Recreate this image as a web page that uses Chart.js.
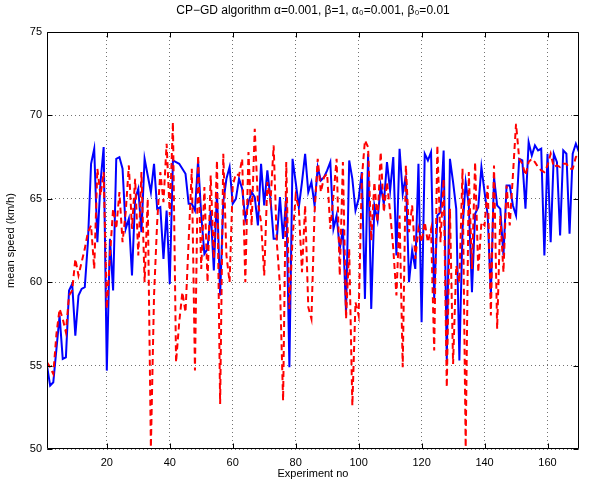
<!DOCTYPE html>
<html><head><meta charset="utf-8">
<script src="https://cdn.jsdelivr.net/npm/chart.js@4.4.0/dist/chart.umd.min.js"></script>
<style>html,body{margin:0;padding:0;background:#fff;}canvas{display:block;}</style>
</head><body>
<canvas id="c" width="589" height="483"></canvas>
<script>
const titleText = "CP\u2212GD algorithm \u03b1=0.001, \u03b2=1, \u03b1\u2080=0.001, \u03b2\u2080=0.01";
const xLabel = "Experiment no";
const yLabel = "mean speed (km/h)";
const xTicks = [20, 40, 60, 80, 100, 120, 140, 160];
const yTicks = [50, 55, 60, 65, 70, 75];
// blue solid series, experiments 1..170
const seriesBlue = [
55.0,53.8,54.0,56.0,58.0,55.4,55.5,59.5,59.9,56.8,
59.2,59.6,59.7,62.4,67.1,68.0,62.4,66.0,68.1,54.7,
62.6,59.5,67.4,67.5,66.8,63.2,63.8,60.4,65.0,65.6,
63.0,67.4,66.4,65.4,67.1,64.4,64.5,61.4,64.3,59.9,
67.3,67.2,67.1,66.8,66.5,64.7,64.7,64.3,67.3,64.0,
61.7,62.0,64.3,60.7,65.4,59.2,64.8,66.2,66.9,64.7,
65.0,66.2,65.6,63.8,64.8,65.4,65.1,63.4,67.1,64.6,
66.7,65.0,62.6,62.6,65.1,62.6,65.1,54.9,67.4,66.0,
64.5,66.0,67.7,65.4,66.0,64.6,66.9,66.1,66.3,66.7,
67.2,63.2,64.0,62.0,63.2,58.2,67.3,66.2,64.3,65.0,
66.6,59.0,67.7,58.4,64.6,63.7,65.8,64.7,67.2,65.5,
67.5,61.6,68.0,65.3,66.4,60.0,61.9,60.8,67.1,57.6,
67.7,67.3,67.8,59.0,64.0,64.2,67.9,55.3,67.4,66.0,
64.4,55.3,63.2,66.0,64.6,59.4,64.1,64.5,66.9,65.4,
64.0,59.2,66.3,64.6,64.4,61.6,65.8,65.8,64.6,64.0,
67.4,67.3,64.4,68.4,67.6,68.2,67.9,68.0,61.6,67.7,
62.4,67.7,67.2,62.8,67.9,67.7,62.9,67.7,68.3,67.8
];
// red dashed series, experiments 1..170
const seriesRed = [
55.2,54.9,54.5,56.9,58.4,57.8,57.0,59.2,59.5,61.4,
60.4,61.2,62.0,63.0,63.4,60.8,66.8,65.2,66.6,58.4,
61.6,64.4,63.2,65.4,62.4,64.2,67.0,63.2,66.2,61.6,
66.6,60.0,65.0,50.1,59.2,63.6,66.6,64.8,68.3,64.0,
69.6,55.2,57.6,59.4,58.2,62.5,66.8,54.7,67.6,60.8,
65.7,60.0,66.4,61.4,67.3,52.7,67.7,61.6,60.0,65.8,
66.5,66.4,67.4,60.0,67.8,63.4,69.2,64.8,63.6,60.4,
66.0,64.8,68.2,62.4,59.8,52.9,67.2,58.4,62.6,65.2,
64.4,60.6,64.6,58.5,57.8,64.2,67.4,65.4,66.3,66.5,
63.2,65.2,67.4,60.4,67.2,57.8,62.0,52.6,58.8,58.0,
66.2,68.5,68.1,62.5,66.0,63.6,67.8,64.2,66.0,64.2,
62.0,59.2,64.0,54.9,67.0,63.0,64.6,61.4,63.2,62.4,
63.6,62.4,63.2,55.9,68.2,62.4,66.2,53.7,64.4,55.1,
61.0,60.0,66.8,50.1,66.6,60.8,67.2,60.6,63.6,63.4,
65.8,58.0,67.0,57.2,64.0,60.6,65.8,63.4,66.4,69.5,
67.4,67.1,66.4,67.2,67.4,67.2,66.9,66.7,66.6,67.0,
67.7,66.9,67.0,66.9,67.1,67.1,66.8,66.8,67.5,67.7
];
const experiments = seriesBlue.map((_, i) => i + 1);

const FONT = "'Liberation Sans', Arial, Helvetica, sans-serif";

const boxPlugin = {
  id: 'matlabBox',
  afterDatasetsDraw(chart) {
    const { ctx, chartArea: a, scales: { x, y } } = chart;
    const L = Math.round(a.left) + 0.5, R = Math.round(a.right) - 0.5;
    const T = Math.round(a.top) + 0.5, B = Math.round(a.bottom) - 0.5;
    ctx.save();
    ctx.strokeStyle = '#000';
    ctx.lineWidth = 1;
    ctx.beginPath();
    ctx.rect(L, T, R - L, B - T);
    const len = 5;
    xTicks.forEach(v => {
      const px = Math.round(x.getPixelForValue(v)) + 0.5;
      ctx.moveTo(px, B); ctx.lineTo(px, B - len);
      ctx.moveTo(px, T); ctx.lineTo(px, T + len);
    });
    yTicks.forEach(v => {
      const py = Math.round(y.getPixelForValue(v)) + 0.5;
      ctx.moveTo(L, py); ctx.lineTo(L + len, py);
      ctx.moveTo(R, py); ctx.lineTo(R - len, py);
    });
    ctx.stroke();
    ctx.restore();
  }
};

new Chart(document.getElementById('c'), {
  type: 'line',
  data: {
    datasets: [
      {
        label: 'red',
        data: experiments.map((e, i) => ({ x: e, y: seriesRed[i] })),
        borderColor: '#ff0000',
        borderWidth: 2,
        borderDash: [6, 4],
        pointRadius: 0,
        tension: 0,
        fill: false,
        order: 0
      },
      {
        label: 'blue',
        data: experiments.map((e, i) => ({ x: e, y: seriesBlue[i] })),
        borderColor: '#0000ff',
        borderWidth: 2,
        pointRadius: 0,
        tension: 0,
        fill: false,
        order: 1
      }
    ]
  },
  options: {
    responsive: false,
    animation: false,
    devicePixelRatio: 1,
    layout: { padding: { left: 0, right: 10, top: 0, bottom: 0 } },
    plugins: {
      legend: { display: false },
      tooltip: { enabled: false },
      title: {
        display: true,
        fullSize: false,
        text: titleText,
        color: '#000',
        font: { family: FONT, size: 12, weight: 'normal' },
        padding: { top: 3, bottom: 14.6 }
      }
    },
    scales: {
      x: {
        type: 'linear',
        min: 1,
        max: 170,
        afterBuildTicks: s => { s.ticks = xTicks.map(v => ({ value: v })); },
        afterFit: s => { s.height = 34; },
        grid: { display: true, color: 'rgba(0,0,0,0.55)', drawTicks: false, lineWidth: 1 },
        border: { display: false, dash: [1, 3] },
        ticks: { color: '#000', font: { family: FONT, size: 11 }, padding: 7, maxRotation: 0 },
        title: { display: true, text: xLabel, color: '#000', font: { family: FONT, size: 11 }, padding: { top: 0, bottom: 2 } }
      },
      y: {
        type: 'linear',
        min: 50,
        max: 75,
        afterBuildTicks: s => { s.ticks = yTicks.map(v => ({ value: v })); },
        afterFit: s => { s.width = 47; },
        grid: { display: true, color: 'rgba(0,0,0,0.55)', drawTicks: false, lineWidth: 1 },
        border: { display: false, dash: [1, 3] },
        ticks: { color: '#000', font: { family: FONT, size: 11 }, padding: 5 },
        title: { display: true, text: yLabel, color: '#000', font: { family: FONT, size: 11 }, padding: { top: 4, bottom: 0 } }
      }
    }
  },
  plugins: [boxPlugin]
});
</script>
</body></html>
